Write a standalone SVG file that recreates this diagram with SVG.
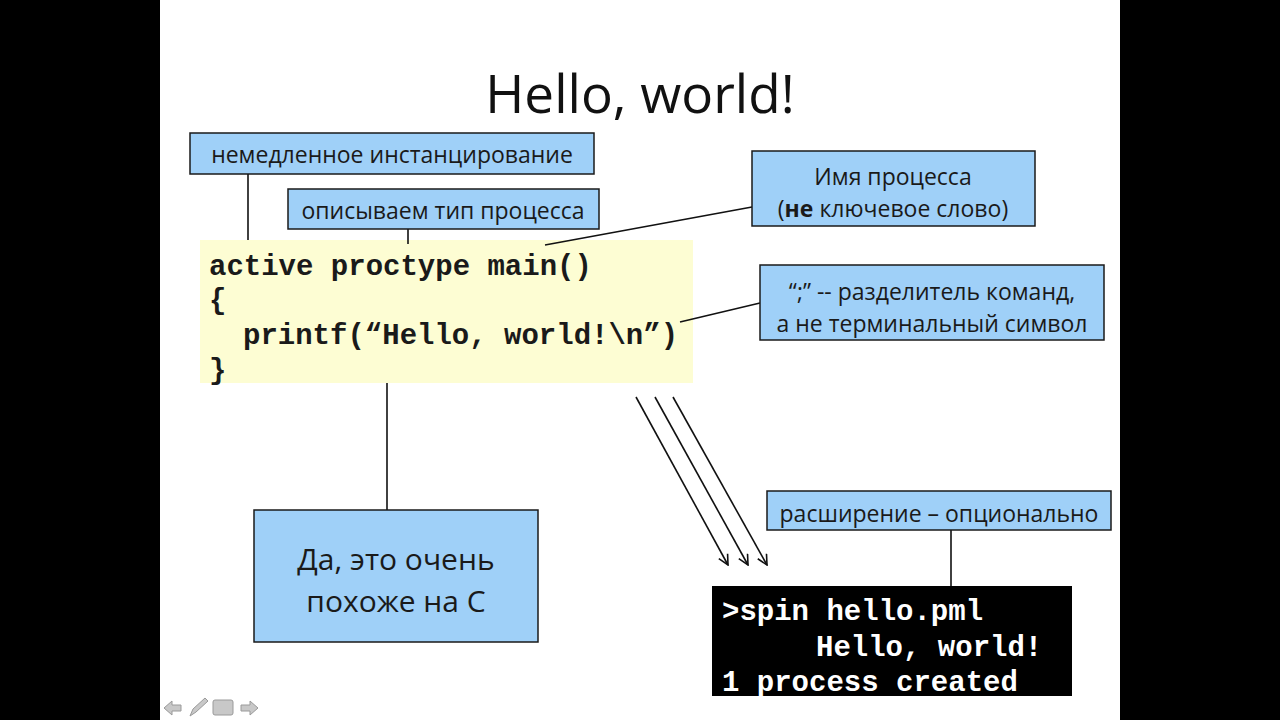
<svg xmlns="http://www.w3.org/2000/svg" width="1280" height="720" viewBox="0 0 1280 720">
<defs>
<style>
.box{fill:#9fd0f8;stroke:#1a1a1a;stroke-width:1.5}
.lbl{font-family:"Open Sans","Liberation Sans",sans-serif;font-size:23px;fill:#1a1a1a;text-anchor:middle}
.big{font-size:30px}
.code{font-family:"Liberation Mono","Courier New",monospace;font-weight:bold;font-size:29px;fill:#1a1a1a}
.term{fill:#ffffff}
.conn{stroke:#111;stroke-width:1.6;fill:none}
</style>
<marker id="vee" viewBox="0 0 12 12" refX="11" refY="6" markerWidth="12" markerHeight="12" markerUnits="userSpaceOnUse" orient="auto">
<path d="M1,1 L11,6 L1,11" fill="none" stroke="#111" stroke-width="1.6"/>
</marker>
</defs>
<rect x="0" y="0" width="1280" height="720" fill="#000"/>
<rect x="160" y="0" width="960" height="720" fill="#fff"/>
<text x="640" y="113" text-anchor="middle" font-family="'Open Sans','Liberation Sans',sans-serif" font-size="53" fill="#111">Hello, world!</text>

<g id="code">
<rect x="200" y="240" width="493" height="143" fill="#fdfdd3"/>
<text class="code" x="209" y="275">active proctype main()</text>
<text class="code" x="209" y="309">{</text>
<text class="code" x="243" y="344">printf(“Hello, world!\n”)</text>
<text class="code" x="209" y="379">}</text>
</g>

<g id="connectors">
<line class="conn" x1="248" y1="174" x2="248" y2="240"/>
<line class="conn" x1="408" y1="229" x2="408" y2="244"/>
<line class="conn" x1="545" y1="245" x2="752" y2="207"/>
<line class="conn" x1="680" y1="322" x2="760" y2="303"/>
<line class="conn" x1="387" y1="383" x2="387" y2="510"/>
<line class="conn" x1="951" y1="530" x2="951" y2="586"/>
<line class="conn" x1="636" y1="397" x2="728" y2="565" marker-end="url(#vee)"/>
<line class="conn" x1="655" y1="397" x2="748" y2="565" marker-end="url(#vee)"/>
<line class="conn" x1="673" y1="397" x2="767" y2="565" marker-end="url(#vee)"/>
</g>

<g id="n-inst">
<rect class="box" x="190" y="133" width="404" height="41"/>
<text class="lbl" x="392" y="163">немедленное инстанцирование</text>
</g>
<g id="n-type">
<rect class="box" x="288" y="189" width="311" height="40"/>
<text class="lbl" x="443" y="219">описываем тип процесса</text>
</g>
<g id="n-name">
<rect class="box" x="752" y="151" width="283" height="75"/>
<text class="lbl" x="893" y="185">Имя процесса</text>
<text class="lbl" x="893" y="217">(<tspan font-weight="bold">не</tspan> ключевое слово)</text>
</g>
<g id="n-sep">
<rect class="box" x="760" y="265" width="344" height="75"/>
<text class="lbl" x="932" y="300">“;” -- разделитель команд,</text>
<text class="lbl" x="932" y="332">а не терминальный символ</text>
</g>
<g id="n-c">
<rect class="box" x="254" y="510" width="284" height="132"/>
<text class="lbl big" x="396" y="570">Да, это очень</text>
<text class="lbl big" x="396" y="612">похоже на С</text>
</g>
<g id="n-ext">
<rect class="box" x="767" y="491" width="344" height="39"/>
<text class="lbl" x="939" y="522">расширение – опционально</text>
</g>
<g id="terminal">
<rect x="712" y="586" width="360" height="110" fill="#000"/>
<text class="code term" x="722" y="620">&gt;spin hello.pml</text>
<text class="code term" x="816" y="656">Hello, world!</text>
<text class="code term" x="722" y="691">1 process created</text>
</g>

<g id="nav" fill="#c8c8c8" stroke="#9a9a9a" stroke-width="1">
<path d="M164,708 L172,701 L172,705 L181,705 L181,711 L172,711 L172,715 Z"/>
<path d="M190,716 L193,709 L205,698 L208,701 L196,712 Z"/>
<rect x="213" y="700" width="20" height="15" rx="2"/>
<path d="M258,708 L250,701 L250,705 L241,705 L241,711 L250,711 L250,715 Z"/>
</g>
</svg>
